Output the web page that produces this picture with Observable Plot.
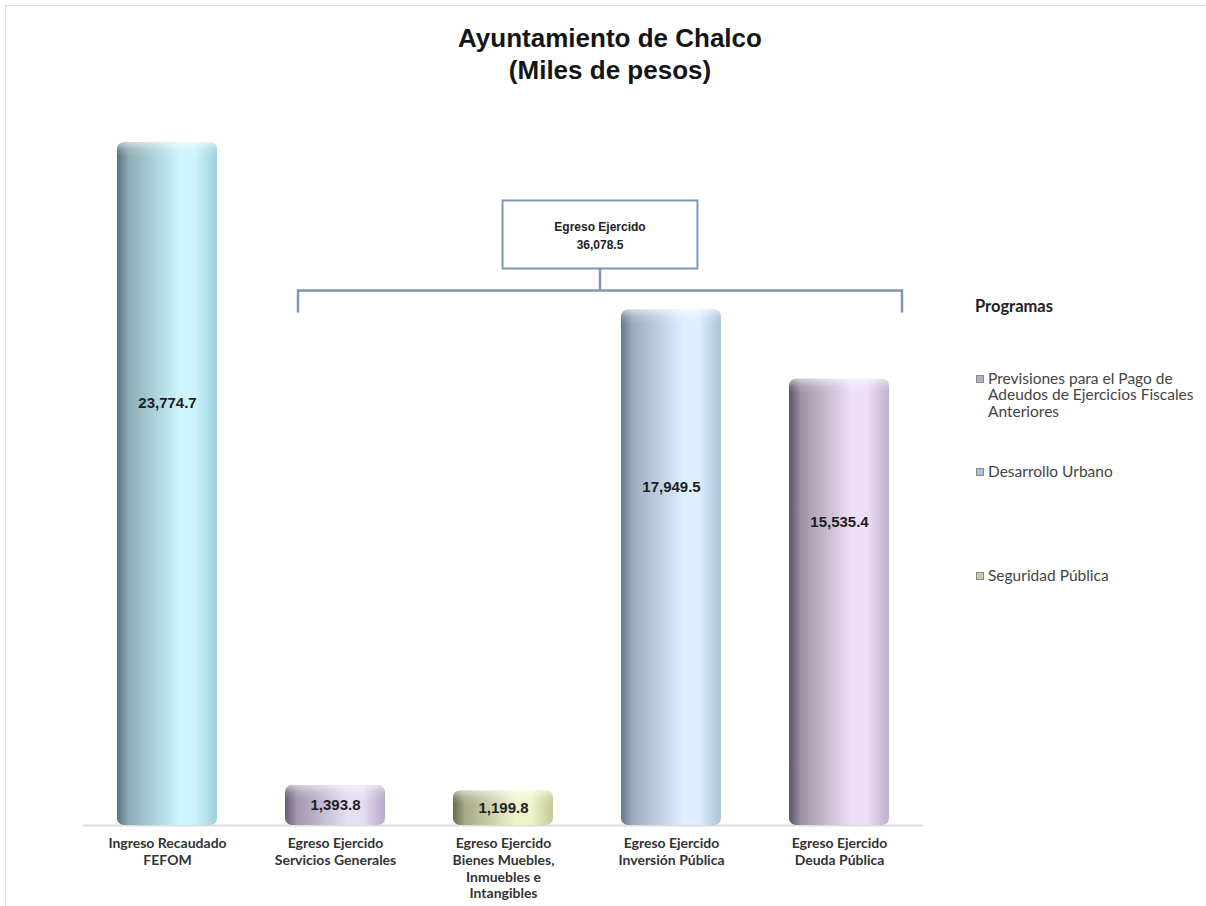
<!DOCTYPE html>
<html><head><meta charset="utf-8">
<script src="https://cdn.jsdelivr.net/npm/d3@7"></script>
<script src="https://cdn.jsdelivr.net/npm/@observablehq/plot@0.6"></script>
<style>
body{margin:0;background:#fff;width:1206px;height:906px;overflow:hidden;position:relative;}
#frame{position:absolute;left:5px;top:5px;width:1201px;height:901px;border-left:1px solid #e2e2e2;border-top:1px solid #e2e2e2;}
#title{position:absolute;left:20px;top:22px;width:1180px;text-align:center;font:bold 26px "Liberation Sans",Arial,sans-serif;line-height:32px;color:#151515;}
#chart{position:absolute;left:0;top:95px;}
#legend{position:absolute;left:975px;top:296px;font-family:Lato,"Open Sans",sans-serif;color:#444;}
#legend .head{font-weight:bold;font-size:16.5px;color:#222;margin-bottom:54px;}
#legend .item{position:relative;padding-left:13px;font-size:15.5px;line-height:16.3px;white-space:pre;}
#legend .sw{position:absolute;left:1px;top:5px;width:6px;height:6px;border:1px solid #8a8a8a;}
</style></head><body>
<div id="frame"></div>
<div id="title"></div>
<div id="chart"></div>
<div id="legend"></div>
<svg width="0" height="0" style="position:absolute"><defs id="grads"></defs></svg>
<script>
// ---- data ----
const titleLines = ["Ayuntamiento de Chalco", "(Miles de pesos)"];
const categories = [
  "Ingreso Recaudado\nFEFOM",
  "Egreso Ejercido\nServicios Generales",
  "Egreso Ejercido\nBienes Muebles,\nInmuebles e\nIntangibles",
  "Egreso Ejercido\nInversión Pública",
  "Egreso Ejercido\nDeuda Pública"
];
const values = [23774.7, 1393.8, 1199.8, 17949.5, 15535.4];
const valueLabels = ["23,774.7", "1,393.8", "1,199.8", "17,949.5", "15,535.4"];
const bracketLabel = "Egreso Ejercido";
const bracketTotal = "36,078.5";
const bracketGroup = categories.slice(1);
const legendTitle = "Programas";
const legendItems = ["Previsiones para el Pago de\nAdeudos de Ejercicios Fiscales\nAnteriores", "Desarrollo Urbano", "Seguridad Pública"];
const legendColors = ["#b7a9c9", "#a9bfdd", "#cacd99"];
const barDark  = ["#58727e", "#685d77", "#686c4c", "#67788b", "#5b5465"];
const barLight = ["#cbf4fc", "#e6def2", "#eff4cb", "#deeefe", "#eddff6"];
const barEdge  = ["#9ccfdb", "#b5a8c8", "#c4c994", "#abc0d8", "#c0add0"];

// ---- title / legend ----
document.getElementById("title").innerHTML = titleLines.join("<br>");
const lg = document.getElementById("legend");
const head = document.createElement("div"); head.className = "head"; head.textContent = legendTitle; lg.appendChild(head);
const gaps = [44, 88, 0];
legendItems.forEach((t, i) => {
  const d = document.createElement("div"); d.className = "item"; d.style.marginBottom = gaps[i] + "px";
  const s = document.createElement("span"); s.className = "sw"; s.style.background = legendColors[i];
  d.appendChild(s); d.appendChild(document.createTextNode(t)); lg.appendChild(d);
});

// ---- gradients ----
const defs = d3.select("#grads");
values.forEach((v, i) => {
  const g = defs.append("linearGradient").attr("id", "g" + i).attr("x1", 0).attr("x2", 1).attr("y1", 0).attr("y2", 0);
  [[0, barDark[i]], [0.12, d3.interpolateRgb(barDark[i], barLight[i])(0.45)], [0.62, barLight[i]], [0.78, barLight[i]], [1, barEdge[i]]]
    .forEach(([o, c]) => g.append("stop").attr("offset", o).attr("stop-color", c));
  const c = defs.append("linearGradient").attr("id", "c" + i).attr("x1", 0).attr("x2", 0).attr("y1", 0).attr("y2", 1);
  [[0, "rgba(255,255,255,0.55)"], [0.5, "rgba(255,255,255,0.15)"], [1, "rgba(255,255,255,0)"]]
    .forEach(([o, col]) => c.append("stop").attr("offset", o).attr("stop-color", col));
});

const data = categories.map((c, i) => ({cat: c, value: values[i], label: valueLabels[i], i}));

// bracket + box drawn from the scales
function bracket(index, scales) {
  const x = scales.x, y = scales.y;
  const bw = x.bandwidth ? x.bandwidth() : 100;
  const step = x.step ? x.step() : 168;
  const left = x(bracketGroup[0]) + 0.13 * bw;
  const right = x(bracketGroup[bracketGroup.length - 1]) + bw + 0.13 * bw;
  const maxV = d3.max(data.filter(d => bracketGroup.includes(d.cat)), d => d.value);
  const yl = y(maxV) - 19;
  const mid = (left + right) / 2;
  const g = d3.create("svg:g");
  const col = "#7b98b6";
  g.append("path").attr("fill", "none").attr("stroke", col).attr("stroke-width", 2.5)
    .attr("d", `M${left},${yl + 22}V${yl}H${right}V${yl + 22}M${mid},${yl}V${yl - 22}`);
  const bwBox = step * 1.16, bh = 68;
  g.append("rect").attr("x", mid - bwBox / 2).attr("y", yl - 22 - bh).attr("width", bwBox).attr("height", bh)
    .attr("fill", "#fff").attr("stroke", col).attr("stroke-width", 2);
  const t = g.append("text").attr("text-anchor", "middle").attr("fill", "#222")
    .attr("font-family", "'Liberation Sans Narrow','Arial Narrow','Liberation Sans',sans-serif")
    .attr("font-weight", "bold").attr("font-size", 12);
  t.append("tspan").attr("x", mid).attr("y", yl - 22 - bh + 31).text(bracketLabel);
  t.append("tspan").attr("x", mid).attr("y", yl - 22 - bh + 49).text(bracketTotal);
  return g.node();
}

const chart = Plot.plot({
  width: 1206,
  height: 811,
  marginLeft: 83,
  marginRight: 283,
  marginTop: 12,
  marginBottom: 81,
  style: {background: "transparent", color: "#333"},
  x: {domain: categories, paddingInner: 0.405, paddingOuter: 0.2, label: null},
  y: {domain: [0, 25000], axis: null},
  marks: [
    Plot.ruleY([0], {stroke: "#dcdcdc", strokeWidth: 2}),
    ...data.map(d => Plot.barY([d], {x: "cat", y: "value", fill: `url(#g${d.i})`, rx: 7})),
    ...data.map(d => Plot.barY([d], {x: "cat", y1: d => d.value, y2: d => d.value - Math.min(d.value * 0.5, 520), fill: `url(#c${d.i})`, rx: 7})),
    Plot.axisX({tickSize: 0, tickPadding: 11, fontSize: 14, fontWeight: "bold", fontFamily: "Lato, 'Open Sans', sans-serif", lineHeight: 1.19, fill: "#333"}),
    Plot.text(data, {x: "cat", y: d => d.value > 5000 ? d.value / 2 + 2800 : d.value / 2, text: "label",
      fontWeight: "bold", fontSize: 15, fontFamily: "'Liberation Sans', Arial, sans-serif", fill: "#1e1e1e"}),
    bracket
  ]
});
document.getElementById("chart").appendChild(chart);
</script>
</body></html>
